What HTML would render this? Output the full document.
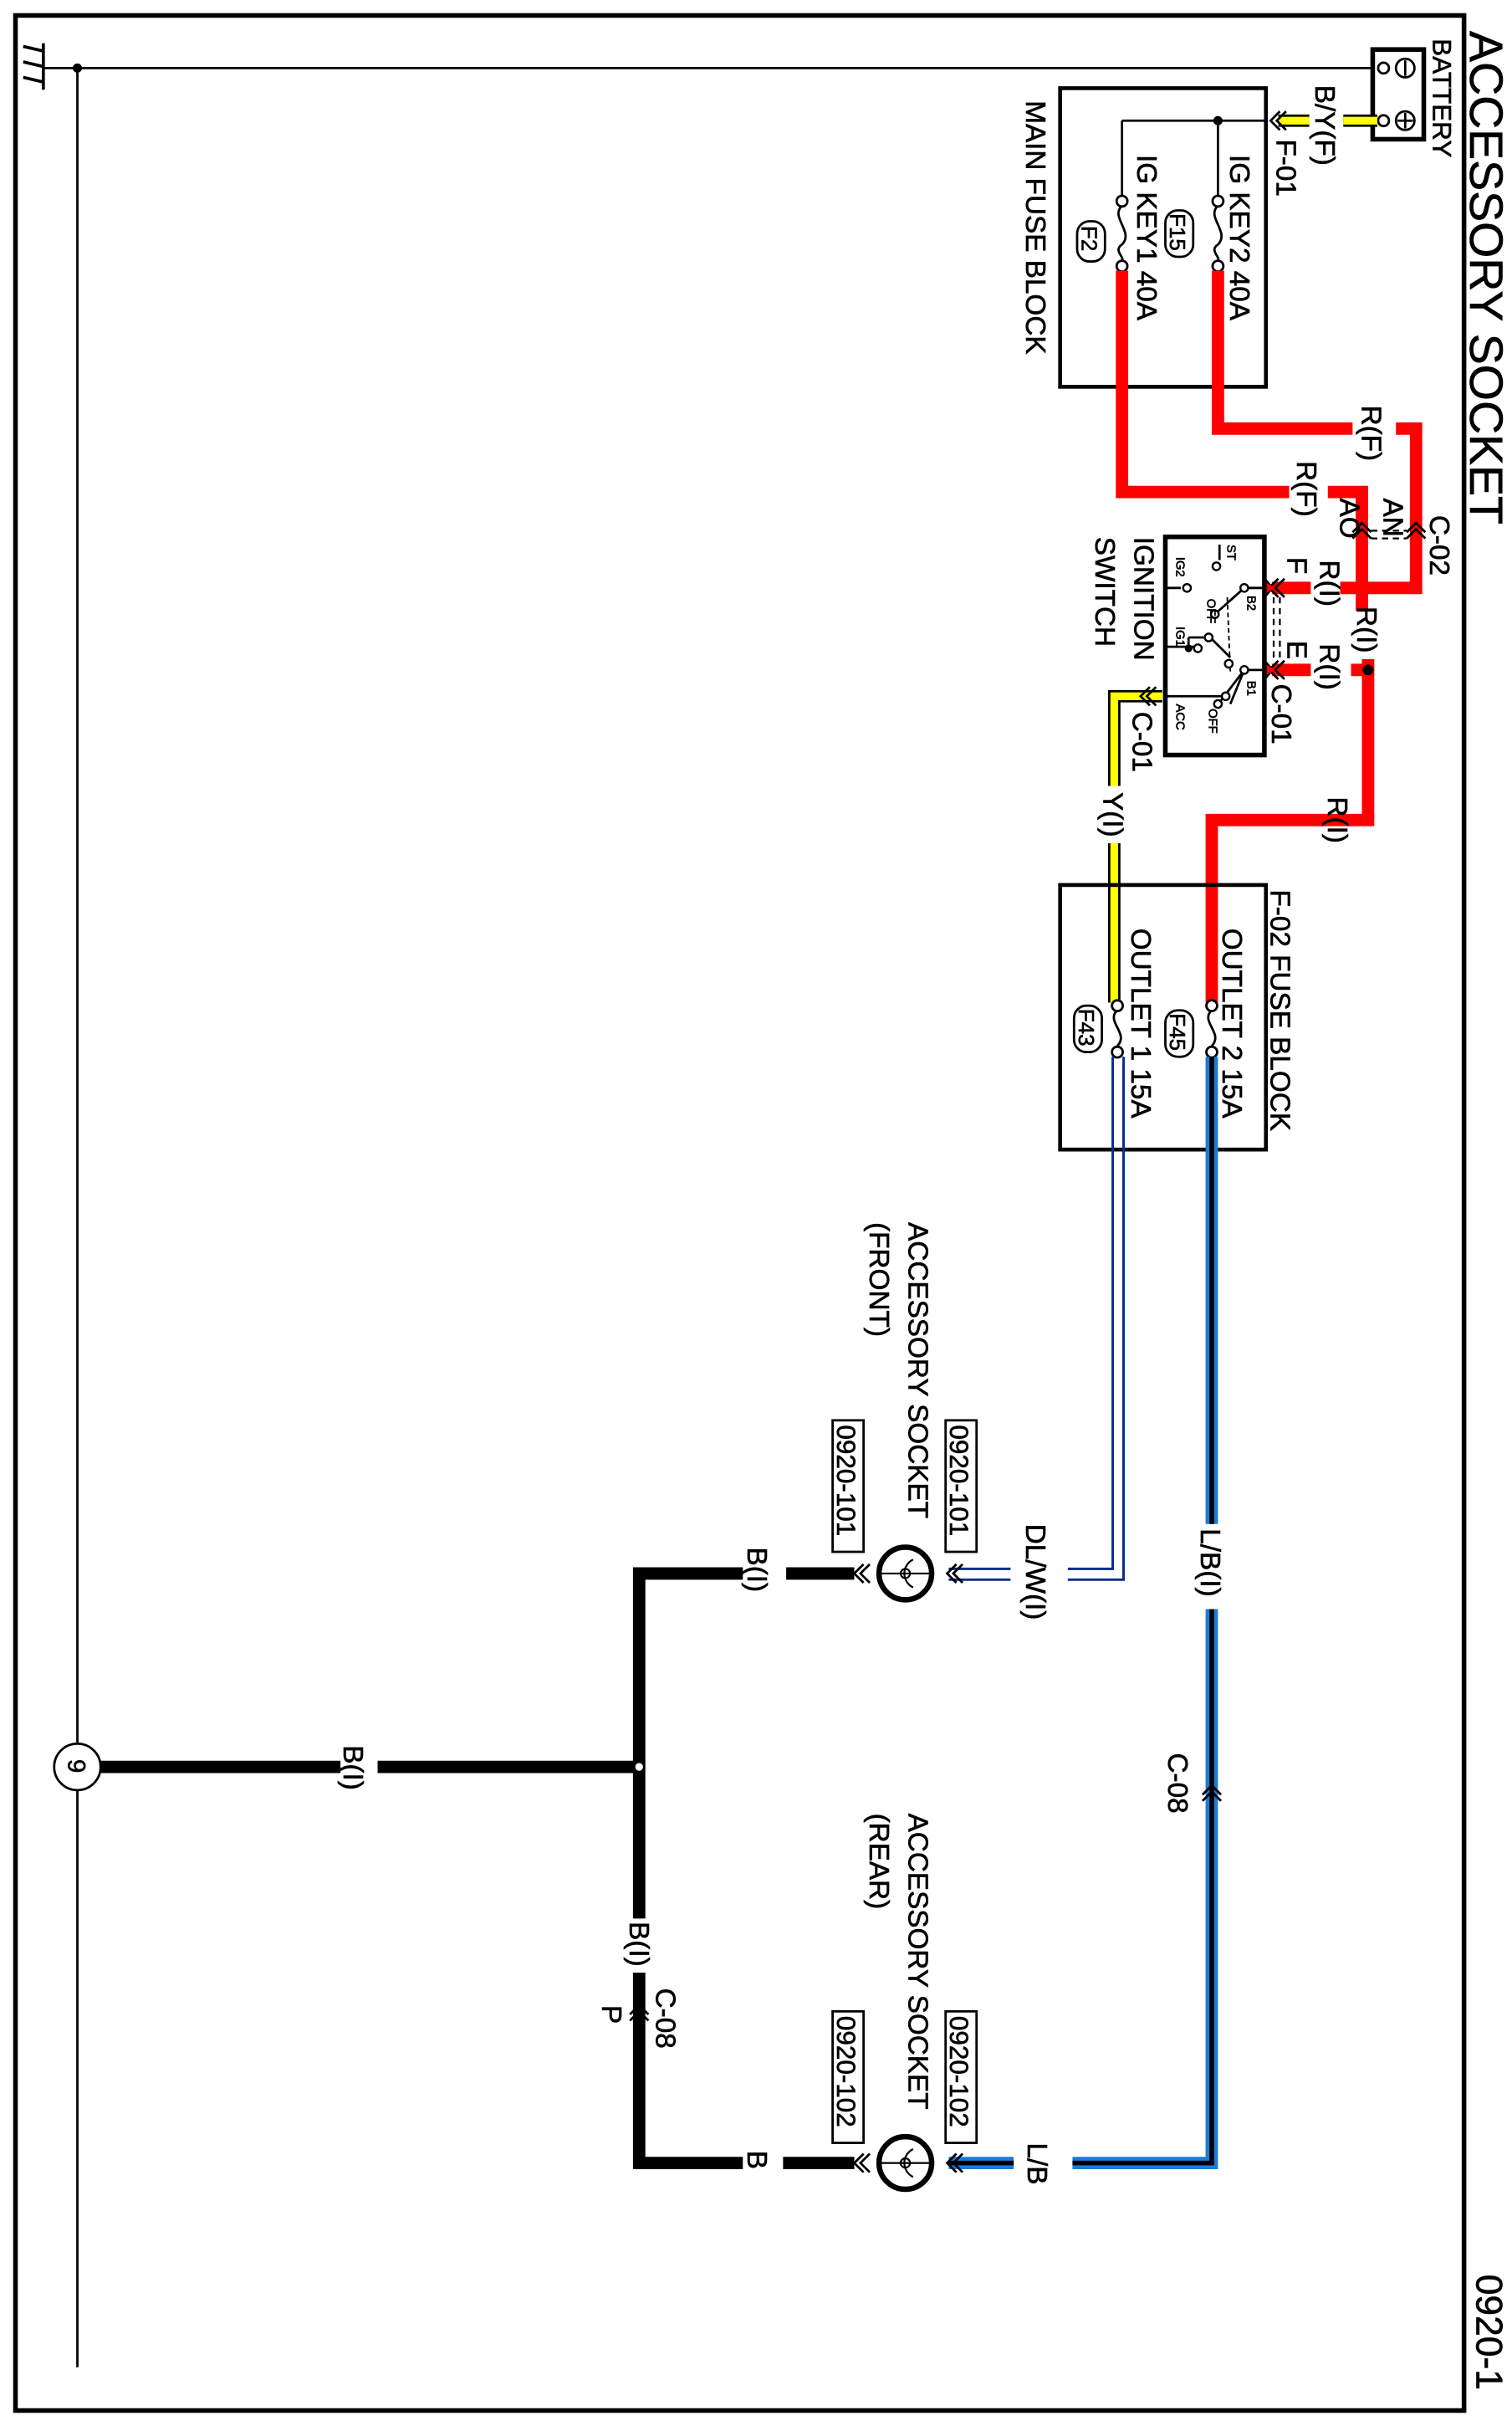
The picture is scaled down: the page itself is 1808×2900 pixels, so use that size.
<!DOCTYPE html>
<html><head><meta charset="utf-8"><style>
html,body{margin:0;padding:0;background:#fff}
svg{display:block}
text{font-family:"Liberation Sans Narrow","Liberation Sans",sans-serif;fill:#000;stroke:#000;stroke-width:0.35}
</style></head><body>
<svg width="1808" height="2900" viewBox="0 0 977 1568" preserveAspectRatio="none" xmlns="http://www.w3.org/2000/svg">
<rect x="0" y="0" width="977" height="1568" fill="#fff"/>
<rect x="10" y="10" width="936" height="1548" fill="none" stroke="#000" stroke-width="3"/>
<text font-size="30" transform="translate(950,20) rotate(90)">ACCESSORY SOCKET</text>
<text font-size="24" transform="translate(954,1470) rotate(90)">0920-1</text>

<g stroke="#000" stroke-width="2">
<line x1="28" y1="28" x2="28" y2="58"/>
<line x1="28" y1="33" x2="15" y2="30"/>
<line x1="28" y1="43" x2="15" y2="40"/>
<line x1="28" y1="53" x2="15" y2="50"/>
<line x1="28" y1="44" x2="888" y2="44" stroke-width="1.5"/>
<line x1="50" y1="44" x2="50" y2="1530" stroke-width="1.5"/>
</g>
<circle cx="50" cy="44" r="3" fill="#000"/>

<rect x="887" y="32" width="33" height="58" fill="#fff" stroke="#000" stroke-width="3"/>
<circle cx="894" cy="44" r="3.5" fill="#fff" stroke="#000" stroke-width="1.5"/>
<circle cx="894" cy="78" r="3.5" fill="#fff" stroke="#000" stroke-width="1.5"/>
<circle cx="908" cy="44" r="6" fill="none" stroke="#000" stroke-width="1.5"/>
<line x1="908" y1="39" x2="908" y2="49" stroke="#000" stroke-width="1.5"/>
<circle cx="908" cy="78" r="6" fill="none" stroke="#000" stroke-width="1.5"/>
<line x1="908" y1="73" x2="908" y2="83" stroke="#000" stroke-width="1.5"/>
<line x1="903" y1="78" x2="913" y2="78" stroke="#000" stroke-width="1.5"/>
<text font-size="17" transform="translate(926,25) rotate(90)">BATTERY</text>

<line x1="890" y1="78" x2="868" y2="78" stroke="#000" stroke-width="8"/>
<line x1="890" y1="78" x2="868" y2="78" stroke="#ffff00" stroke-width="5"/>
<line x1="846" y1="78" x2="826" y2="78" stroke="#000" stroke-width="8"/>
<line x1="846" y1="78" x2="826" y2="78" stroke="#ffff00" stroke-width="5"/>
<text font-size="18" transform="translate(850,55) rotate(90)">B/Y(F)</text>
<path d="M827,72 L821,78 L827,84 M831,72 L825,78 L831,84" fill="none" stroke="#000" stroke-width="1.5"/>
<text font-size="18" transform="translate(825,90) rotate(90)">F-01</text>

<rect x="685" y="57" width="133" height="193" fill="none" stroke="#000" stroke-width="2.5"/>
<g stroke="#000" stroke-width="1.5" fill="none">
<line x1="818" y1="78" x2="725" y2="78"/>
<line x1="787" y1="78" x2="787" y2="127"/>
<line x1="725" y1="78" x2="725" y2="127"/>
<path d="M787,133 C779,140 795,150 787,158 C781,162 789,166 787,169"/>
<path d="M725,133 C717,140 733,150 725,158 C719,162 727,166 725,169"/>
</g>
<circle cx="787" cy="78" r="3" fill="#000"/>
<g fill="#fff" stroke="#000" stroke-width="1.5">
<circle cx="787" cy="130" r="3.5"/><circle cx="787" cy="172" r="3.5"/>
<circle cx="725" cy="130" r="3.5"/><circle cx="725" cy="172" r="3.5"/>
</g>
<text font-size="18" transform="translate(795,100) rotate(90)">IG KEY2 40A</text>
<text font-size="18" transform="translate(735,100) rotate(90)">IG KEY1 40A</text>
<rect x="753" y="136" width="18" height="30" rx="8" fill="none" stroke="#000" stroke-width="1.5"/>
<text font-size="14" transform="translate(756,138) rotate(90)">F15</text>
<rect x="696" y="143" width="18" height="26" rx="8" fill="none" stroke="#000" stroke-width="1.5"/>
<text font-size="14" transform="translate(699,146) rotate(90)">F2</text>
<text font-size="18" transform="translate(663,65) rotate(90)">MAIN FUSE BLOCK</text>

<g stroke="#ff0000" stroke-width="8" fill="none" stroke-linecap="butt">
<polyline points="787,175 787,277 874,277"/>
<polyline points="902,277 915,277 915,380 880,380"/>
<polyline points="725,175 725,318 833,318"/>
<polyline points="858,318 880,318 880,395"/>
<line x1="880" y1="380" x2="866" y2="380"/>
<line x1="884" y1="426" x2="884" y2="530"/>
<line x1="888" y1="433" x2="873" y2="433"/>
<polyline points="888,530 783,530 783,648"/>
<line x1="847" y1="380" x2="822" y2="380"/>
<line x1="847" y1="433" x2="822" y2="433"/>
</g>
<circle cx="884" cy="433" r="3.5" fill="#000"/>
<text font-size="18" transform="translate(880,262) rotate(90)">R(F)</text>
<text font-size="18" transform="translate(838,298) rotate(90)">R(F)</text>
<text font-size="18" transform="translate(894,322) rotate(90)">AN</text>
<text font-size="18" transform="translate(866,322) rotate(90)">AO</text>
<text font-size="18" transform="translate(924,333) rotate(90)">C-02</text>
<path d="M874,344 L880,338 L886,344 M874,348 L880,342 L886,348 M909,344 L915,338 L921,344 M909,348 L915,342 L921,348" fill="none" stroke="#000" stroke-width="1.5"/>
<line x1="886" y1="343" x2="909" y2="343" stroke="#000" stroke-width="1.2" stroke-dasharray="4,3"/>
<line x1="886" y1="348" x2="909" y2="348" stroke="#000" stroke-width="1.2" stroke-dasharray="4,3"/>
<text font-size="18" transform="translate(877,392) rotate(90)">R(I)</text>
<text font-size="18" transform="translate(853,362) rotate(90)">R(I)</text>
<text font-size="18" transform="translate(853,416) rotate(90)">R(I)</text>
<text font-size="18" transform="translate(832,360) rotate(90)">F</text>
<text font-size="18" transform="translate(832,414) rotate(90)">E</text>
<text font-size="18" transform="translate(858,515) rotate(90)">R(I)</text>
<path d="M818,375 L822,380 L818,385 M826,374 L820,380 L826,386 M830,374 L824,380 L830,386 M818,428 L822,433 L818,438 M826,427 L820,433 L826,439 M830,427 L824,433 L830,439" fill="none" stroke="#000" stroke-width="1.5"/>
<polygon points="817,376 824,380 817,384" fill="#ff0000"/>
<polygon points="817,429 824,433 817,437" fill="#ff0000"/>
<line x1="823" y1="386" x2="823" y2="428" stroke="#000" stroke-width="1.2" stroke-dasharray="4,3"/>
<line x1="827" y1="386" x2="827" y2="428" stroke="#000" stroke-width="1.2" stroke-dasharray="4,3"/>
<text font-size="18" transform="translate(822,442) rotate(90)">C-01</text>

<rect x="753" y="347" width="64" height="141" fill="#fff" stroke="#000" stroke-width="3"/>
<g stroke="#000" stroke-width="1.5" fill="none">
<line x1="817" y1="380" x2="803" y2="380"/>
<line x1="753" y1="380" x2="763" y2="380"/>
<line x1="817" y1="433" x2="803" y2="433"/>
<line x1="753" y1="418" x2="775" y2="418"/>
<line x1="753" y1="450" x2="790" y2="450"/>
<line x1="788" y1="352" x2="788" y2="362"/>
<line x1="804" y1="380" x2="785" y2="397"/>
<line x1="804" y1="433" x2="788" y2="454"/>
<line x1="804" y1="433" x2="795" y2="455"/>
<line x1="768" y1="412" x2="768" y2="420"/>
<line x1="768" y1="412" x2="780" y2="412"/>
<line x1="783" y1="413" x2="795" y2="425"/>
<line x1="793" y1="386" x2="795" y2="434" stroke-dasharray="3,2" stroke-width="1"/>
</g>
<g fill="#fff" stroke="#000" stroke-width="1.3">
<circle cx="786" cy="366" r="2.5"/><circle cx="767" cy="380" r="2.5"/>
<circle cx="804" cy="380" r="2.5"/><circle cx="785" cy="397" r="2.5"/>
<circle cx="804" cy="433" r="2.5"/><circle cx="787" cy="455" r="2.5"/>
<circle cx="781" cy="412" r="2.5"/><circle cx="774" cy="419" r="2.5"/>
<circle cx="794" cy="429" r="2.5"/><circle cx="792" cy="450" r="2.5"/>
</g>
<circle cx="768" cy="419" r="2.5" fill="#000"/>
<g font-size="8">
<text transform="translate(793,352) rotate(90)">ST</text>
<text transform="translate(760,360) rotate(90)">IG2</text>
<text transform="translate(806,385) rotate(90)">B2</text>
<text transform="translate(780,387) rotate(90)">OFF</text>
<text transform="translate(760,405) rotate(90)">IG1</text>
<text transform="translate(806,440) rotate(90)">B1</text>
<text transform="translate(760,455) rotate(90)">ACC</text>
<text transform="translate(781,458) rotate(90)">OFF</text>
</g>
<text font-size="18" transform="translate(733,347) rotate(90)">IGNITION</text>
<text font-size="18" transform="translate(708,347) rotate(90)">SWITCH</text>

<polyline points="751,450 720,450 720,508" fill="none" stroke="#000" stroke-width="8"/>
<polyline points="751,450 720,450 720,508" fill="none" stroke="#ffff00" stroke-width="5"/>
<polyline points="720,545 720,648" fill="none" stroke="#000" stroke-width="8"/>
<polyline points="720,545 720,648" fill="none" stroke="#ffff00" stroke-width="5"/>
<path d="M743,444 L737,450 L743,456 M747,444 L741,450 L747,456" fill="none" stroke="#000" stroke-width="1.5"/>
<text font-size="18" transform="translate(732,460) rotate(90)">C-01</text>
<text font-size="18" transform="translate(713,512) rotate(90)">Y(I)</text>

<rect x="685" y="572" width="133" height="171" fill="none" stroke="#000" stroke-width="2.5"/>
<g stroke="#000" stroke-width="1.5" fill="none">
<path d="M783,653 C775,660 791,668 783,676"/>
<path d="M722,653 C714,660 730,668 722,676"/>
</g>
<g fill="#fff" stroke="#000" stroke-width="1.5">
<circle cx="783" cy="650" r="3.5"/><circle cx="783" cy="680" r="3.5"/>
<circle cx="722" cy="650" r="3.5"/><circle cx="722" cy="680" r="3.5"/>
</g>
<text font-size="18" transform="translate(790,600) rotate(90)">OUTLET 2 15A</text>
<text font-size="18" transform="translate(731,600) rotate(90)">OUTLET 1 15A</text>
<rect x="753" y="653" width="18" height="30" rx="8" fill="none" stroke="#000" stroke-width="1.5"/>
<text font-size="14" transform="translate(756,655) rotate(90)">F45</text>
<rect x="694" y="650" width="18" height="30" rx="8" fill="none" stroke="#000" stroke-width="1.5"/>
<text font-size="14" transform="translate(697,652) rotate(90)">F43</text>
<text font-size="18" transform="translate(821,575) rotate(90)">F-02  FUSE BLOCK</text>

<g fill="none" stroke-linejoin="miter">
<polyline points="783,683 783,985" stroke="#1e7ad6" stroke-width="8"/>
<polyline points="783,683 783,985" stroke="#000" stroke-width="3"/>
<polyline points="783,1040 783,1398 693,1398" stroke="#1e7ad6" stroke-width="8"/>
<polyline points="783,1040 783,1398 693,1398" stroke="#000" stroke-width="3"/>
<polyline points="655,1398 613,1398" stroke="#1e7ad6" stroke-width="8"/>
<polyline points="655,1398 613,1398" stroke="#000" stroke-width="3"/>
</g>
<text font-size="18" transform="translate(776,988) rotate(90)">L/B(I)</text>
<path d="M777,1160 L783,1154 L789,1160 M777,1164 L783,1158 L789,1164" fill="none" stroke="#000" stroke-width="1.5"/>
<text font-size="18" transform="translate(755,1133) rotate(90)">C-08</text>
<text font-size="18" transform="translate(664,1385) rotate(90)">L/B</text>

<g fill="none" stroke="#0a2d8c" stroke-width="1.6">
<polyline points="719,683 719,1014 690,1014"/>
<polyline points="726,683 726,1021 690,1021"/>
<polyline points="653,1014 613,1014"/>
<polyline points="653,1021 613,1021"/>
</g>
<text font-size="18" transform="translate(663,985) rotate(90)">DL/W(I)</text>

<path d="M618,1011 L612,1017 L618,1023 M622,1011 L616,1017 L622,1023" fill="none" stroke="#000" stroke-width="1.5"/>
<circle cx="585" cy="1017" r="17" fill="#fff" stroke="#000" stroke-width="3.5"/>
<line x1="568" y1="1017" x2="602" y2="1017" stroke="#000" stroke-width="1.2"/>
<path d="M590,1008 A10,10 0 0 0 590,1026" fill="none" stroke="#000" stroke-width="1.2"/>
<circle cx="585" cy="1017" r="3" fill="none" stroke="#000" stroke-width="1.2"/>
<path d="M558,1011 L552,1017 L558,1023 M562,1011 L556,1017 L562,1023" fill="none" stroke="#000" stroke-width="1.5"/>
<rect x="611" y="918" width="20" height="85" fill="none" stroke="#000" stroke-width="1.5"/>
<text font-size="17" transform="translate(614,921) rotate(90)">0920-101</text>
<rect x="538" y="918" width="20" height="85" fill="none" stroke="#000" stroke-width="1.5"/>
<text font-size="17" transform="translate(541,921) rotate(90)">0920-101</text>
<text font-size="18" transform="translate(587,790) rotate(90)">ACCESSORY SOCKET</text>
<text font-size="18" transform="translate(562,790) rotate(90)">(FRONT)</text>

<path d="M618,1392 L612,1398 L618,1404 M622,1392 L616,1398 L622,1404" fill="none" stroke="#000" stroke-width="1.5"/>
<circle cx="585" cy="1398" r="17" fill="#fff" stroke="#000" stroke-width="3.5"/>
<line x1="568" y1="1398" x2="602" y2="1398" stroke="#000" stroke-width="1.2"/>
<path d="M590,1389 A10,10 0 0 0 590,1407" fill="none" stroke="#000" stroke-width="1.2"/>
<circle cx="585" cy="1398" r="3" fill="none" stroke="#000" stroke-width="1.2"/>
<path d="M558,1392 L552,1398 L558,1404 M562,1392 L556,1398 L562,1404" fill="none" stroke="#000" stroke-width="1.5"/>
<rect x="611" y="1300" width="20" height="85" fill="none" stroke="#000" stroke-width="1.5"/>
<text font-size="17" transform="translate(614,1303) rotate(90)">0920-102</text>
<rect x="538" y="1300" width="20" height="85" fill="none" stroke="#000" stroke-width="1.5"/>
<text font-size="17" transform="translate(541,1303) rotate(90)">0920-102</text>
<text font-size="18" transform="translate(587,1172) rotate(90)">ACCESSORY SOCKET</text>
<text font-size="18" transform="translate(562,1172) rotate(90)">(REAR)</text>

<g fill="none" stroke="#000" stroke-width="8">
<polyline points="552,1017 508,1017"/>
<polyline points="480,1017 413,1017 413,1240"/>
<polyline points="413,1275 413,1398 480,1398"/>
<polyline points="506,1398 552,1398"/>
<polyline points="413,1142 244,1142"/>
<polyline points="220,1142 65,1142"/>
</g>
<circle cx="413" cy="1142" r="3" fill="#fff" stroke="#000" stroke-width="1"/>
<text font-size="18" transform="translate(483,1000) rotate(90)">B(I)</text>
<text font-size="18" transform="translate(222,1128) rotate(90)">B(I)</text>
<text font-size="18" transform="translate(407,1242) rotate(90)">B(I)</text>
<text font-size="18" transform="translate(483,1390) rotate(90)">B</text>
<path d="M407,1302 L413,1296 L419,1302 M407,1306 L413,1300 L419,1306" fill="none" stroke="#000" stroke-width="1.5"/>
<text font-size="18" transform="translate(424,1285) rotate(90)">C-08</text>
<text font-size="18" transform="translate(389,1296) rotate(90)">P</text>
<circle cx="50" cy="1142" r="15" fill="#fff" stroke="#000" stroke-width="1.5"/>
<text font-size="16" transform="translate(44,1137) rotate(90)">9</text>
</svg>
</body></html>
